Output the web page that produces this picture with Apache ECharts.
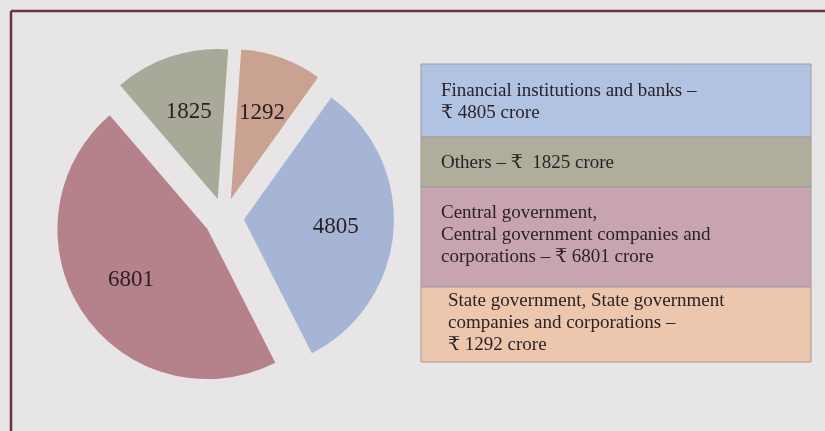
<!DOCTYPE html>
<html>
<head>
<meta charset="utf-8">
<script src="https://cdn.jsdelivr.net/npm/echarts@6/dist/echarts.min.js"></script>
<style>
html,body{margin:0;padding:0;background:#e7e5e5;}
#chart{width:825px;height:431px;}
</style>
</head>
<body>
<div id="chart"></div>
<script>
// ---- data ----
const categories = [
  'State government, State government companies and corporations',
  'Financial institutions and banks',
  'Central government, Central government companies and corporations',
  'Others'
];
const values = [1292, 4805, 6801, 1825];
const sliceColors = ['#c9a292', '#a6b5d5', '#b5828c', '#a8a998'];
const boxColors = ['#ecc6ad', '#b1c3e2', '#c8a3b0', '#afae9d'];
// order of legend boxes (top to bottom), as indices into categories
const legendOrder = [1, 3, 2, 0];
const legendTexts = [
  'State government, State government\ncompanies and corporations –\n₹ ' + values[0] + ' crore',
  'Financial institutions and banks –\n₹ ' + values[1] + ' crore',
  'Central government,\nCentral government companies and\ncorporations – ₹ ' + values[2] + ' crore',
  'Others – ₹  ' + values[3] + ' crore'
];

// ---- layout (style only) ----
const boxX = 421, boxW = 390;
const boxEdges = [64, 137, 187, 287, 362];
const textTops = [80, 152, 202, 290];
const textX = [441, 441, 441, 448];
const pieCenter = [224, 218];
const pieStart = 86;
const fontFamily = '"Liberation Serif", "DejaVu Serif", serif';

const chart = echarts.init(document.getElementById('chart'), null, {renderer: 'canvas'});

const graphics = [
  {type: 'line', shape: {x1: 11, y1: 11, x2: 825, y2: 11}, style: {stroke: '#6a3443', lineWidth: 2.5}, z: 10},
  {type: 'line', shape: {x1: 11, y1: 11, x2: 11, y2: 431}, style: {stroke: '#6a3443', lineWidth: 2.5}, z: 10}
];
legendOrder.forEach((ci, i) => {
  graphics.push({
    type: 'rect',
    shape: {x: boxX, y: boxEdges[i], width: boxW, height: boxEdges[i + 1] - boxEdges[i]},
    style: {fill: boxColors[ci], stroke: '#a09a98', lineWidth: 1}
  });
  graphics.push({
    type: 'text',
    x: textX[i], y: textTops[i],
    style: {
      text: legendTexts[ci],
      font: '19px ' + fontFamily,
      fill: '#2b2226',
      lineHeight: 22,
      verticalAlign: 'top'
    },
    z: 5
  });
});

const sliceData = categories.map((name, i) => ({
  name: name,
  value: values[i],
  selected: true,
  itemStyle: {color: sliceColors[i]}
}));

chart.setOption({
  animation: false,
  backgroundColor: '#e7e5e5',
  graphic: graphics,
  series: [{
    type: 'pie',
    center: pieCenter,
    radius: 150,
    startAngle: pieStart,
    clockwise: true,
    selectedMode: 'multiple',
    selectedOffset: 20,
    select: {itemStyle: {borderWidth: 0}},
    emphasis: {scale: false},
    silent: true,
    label: {show: false},
    labelLine: {show: false},
    itemStyle: {borderWidth: 0},
    data: sliceData
  }, {
    // transparent ring that only carries the value labels a bit further out
    type: 'pie',
    center: pieCenter,
    radius: 178,
    startAngle: pieStart,
    clockwise: true,
    selectedMode: 'multiple',
    selectedOffset: 20,
    select: {itemStyle: {borderWidth: 0, color: 'rgba(0,0,0,0)'}},
    emphasis: {scale: false},
    silent: true,
    z: 3,
    label: {
      show: true,
      position: 'inside',
      formatter: '{c}',
      fontSize: 23,
      fontFamily: fontFamily,
      color: '#2a1e20'
    },
    labelLine: {show: false},
    itemStyle: {color: 'rgba(0,0,0,0)', borderWidth: 0},
    data: categories.map((name, i) => ({
      name: name,
      value: values[i],
      selected: true,
      itemStyle: {color: 'rgba(0,0,0,0)'}
    }))
  }]
});
</script>
</body>
</html>
